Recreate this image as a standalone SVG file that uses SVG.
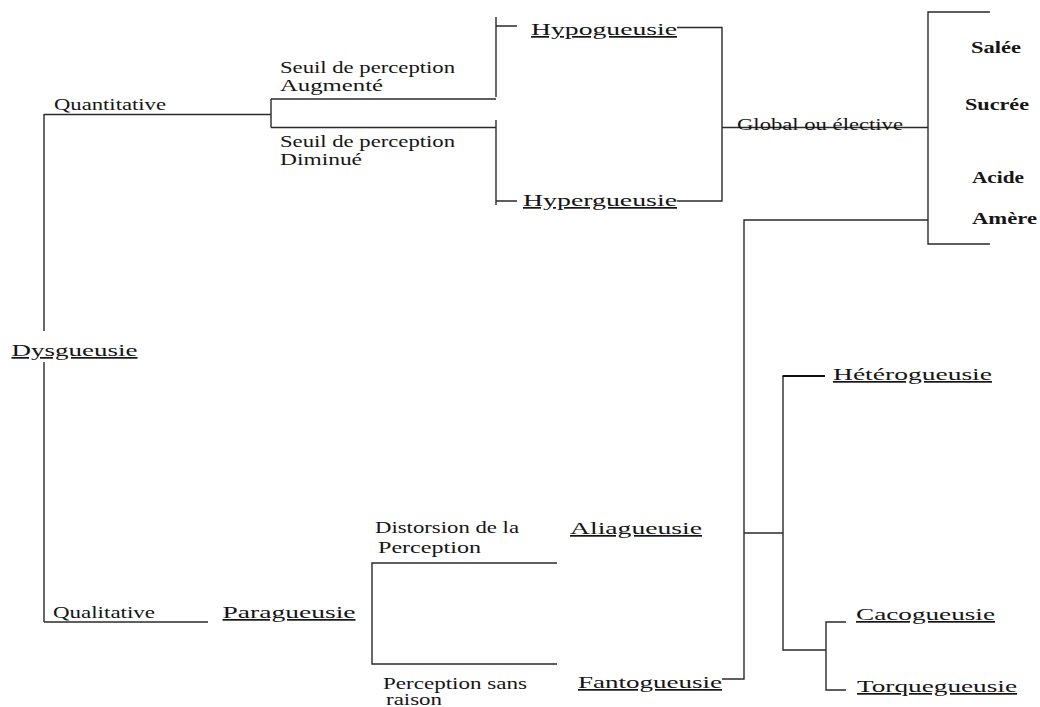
<svg xmlns="http://www.w3.org/2000/svg" width="1040" height="707" viewBox="0 0 1040 707">
<style>
.bg{fill:#ffffff}
.c{fill:none;stroke:#2a2a2a;stroke-width:1.4}
.thick{stroke:#111;stroke-width:2.2}
.t{font-family:'Liberation Serif','Times New Roman',Tinos,'Noto Serif','DejaVu Serif',serif;fill:#151515}
.s{font-size:16px}
.n{font-size:17px;text-decoration:underline}
.b{font-size:16px;font-weight:bold}
</style>
<rect class="bg" x="0" y="0" width="1040" height="707"/>
<g id="connectors">
<path class="c" d="M44,114 V331 M44,362 V622"/>
<path class="c" d="M44,114.5 H271 M271,99 V127.5 M271,99 H496 M271,127.5 H496"/>
<path class="c" d="M496,17 V97 M496,26 H517 M496,120 V205 M496,201 H517"/>
<path class="c" d="M677,27.5 H722 V201 H677 M722,127.5 H928"/>
<path class="c" d="M990,12 H928 V244 H990 M928,220 H744 V679 H722"/>
<path class="c" d="M44,622 H208"/>
<path class="c" d="M557,563 H372 V664 H557"/>
<path class="c" d="M744,533 H783 M783,376 V650 H826"/>
<path class="c thick" d="M782.5,376 H825"/>
<path class="c" d="M846,622 H826 V690 H846"/>
</g>
<g id="node-dysgueusie"><text class="t n" x="11.5" y="356" textLength="126" lengthAdjust="spacingAndGlyphs">Dysgueusie</text></g>
<g id="label-quantitative"><text class="t s" x="54" y="110" textLength="112" lengthAdjust="spacingAndGlyphs">Quantitative</text></g>
<g id="label-augmente">
<text class="t s" x="280" y="72.5" textLength="175" lengthAdjust="spacingAndGlyphs">Seuil de perception</text>
<text class="t s" x="280" y="90.5" textLength="103" lengthAdjust="spacingAndGlyphs">Augmenté</text>
</g>
<g id="label-diminue">
<text class="t s" x="280" y="146.5" textLength="175" lengthAdjust="spacingAndGlyphs">Seuil de perception</text>
<text class="t s" x="280" y="165" textLength="82" lengthAdjust="spacingAndGlyphs">Diminué</text>
</g>
<g id="node-hypogueusie"><text class="t n" x="531" y="35" textLength="146" lengthAdjust="spacingAndGlyphs">Hypogueusie</text></g>
<g id="node-hypergueusie"><text class="t n" x="523" y="206" textLength="154" lengthAdjust="spacingAndGlyphs">Hypergueusie</text></g>
<g id="label-global"><text class="t s" x="737" y="130" textLength="166" lengthAdjust="spacingAndGlyphs">Global ou élective</text></g>
<g id="node-salee"><text class="t b" x="971" y="53" textLength="50" lengthAdjust="spacingAndGlyphs">Salée</text></g>
<g id="node-sucree"><text class="t b" x="965" y="110" textLength="64" lengthAdjust="spacingAndGlyphs">Sucrée</text></g>
<g id="node-acide"><text class="t b" x="972" y="183" textLength="52" lengthAdjust="spacingAndGlyphs">Acide</text></g>
<g id="node-amere"><text class="t b" x="972" y="224" textLength="65" lengthAdjust="spacingAndGlyphs">Amère</text></g>
<g id="label-qualitative"><text class="t s" x="53" y="618" textLength="102" lengthAdjust="spacingAndGlyphs">Qualitative</text></g>
<g id="node-paragueusie"><text class="t n" x="222.5" y="618" textLength="133" lengthAdjust="spacingAndGlyphs">Paragueusie</text></g>
<g id="label-distorsion">
<text class="t s" x="375" y="533" textLength="144" lengthAdjust="spacingAndGlyphs">Distorsion de la</text>
<text class="t s" x="378" y="553" textLength="103" lengthAdjust="spacingAndGlyphs">Perception</text>
</g>
<g id="label-sans-raison">
<text class="t s" x="383" y="689" textLength="144" lengthAdjust="spacingAndGlyphs">Perception sans</text>
<text class="t s" x="386" y="705" textLength="56" lengthAdjust="spacingAndGlyphs">raison</text>
</g>
<g id="node-aliagueusie"><text class="t n" x="570" y="534" textLength="132" lengthAdjust="spacingAndGlyphs">Aliagueusie</text></g>
<g id="node-fantogueusie"><text class="t n" x="578" y="688" textLength="144" lengthAdjust="spacingAndGlyphs">Fantogueusie</text></g>
<g id="node-heterogueusie"><text class="t n" x="833" y="380" textLength="159" lengthAdjust="spacingAndGlyphs">Hétérogueusie</text></g>
<g id="node-cacogueusie"><text class="t n" x="856" y="620" textLength="139" lengthAdjust="spacingAndGlyphs">Cacogueusie</text></g>
<g id="node-torquegueusie"><text class="t n" x="857" y="692" textLength="160" lengthAdjust="spacingAndGlyphs">Torquegueusie</text></g>
</svg>
